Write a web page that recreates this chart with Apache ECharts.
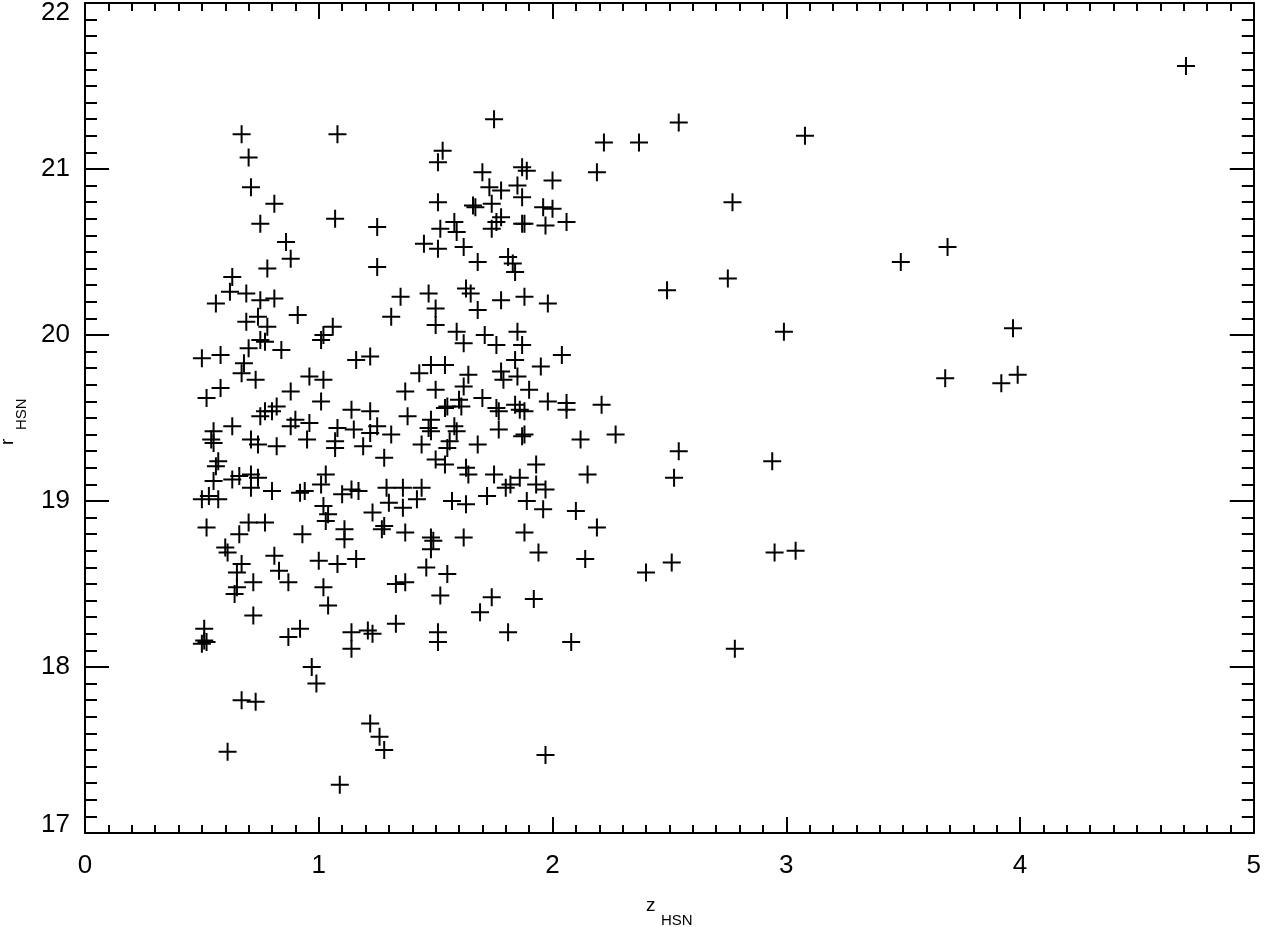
<!DOCTYPE html>
<html>
<head>
<meta charset="utf-8">
<script src="https://cdn.jsdelivr.net/npm/echarts@6/dist/echarts.min.js"></script>
<style>
html,body{margin:0;padding:0;background:#fff;}
#chart{width:1264px;height:927px;}
</style>
</head>
<body>
<div id="chart"></div>
<script>
// z_HSN, r_HSN pairs, grouped by region
const outerPoints = [
  [4.71,21.62],[3.08,21.20],[2.37,21.16],[2.22,21.16],[2.54,21.28],[2.19,20.98],[2.77,20.80],[2.06,20.68],
  [3.49,20.44],[3.69,20.53],[2.49,20.27],[2.75,20.34],[2.99,20.02],[3.97,20.04],[3.68,19.74],[3.92,19.71],
  [3.99,19.76],[2.04,19.88],[2.21,19.58],[2.27,19.40],[2.12,19.37],[2.54,19.30],[2.94,19.24],[2.52,19.14],
  [2.15,19.16],[2.10,18.94],[2.19,18.84],[2.95,18.69],[3.04,18.70],[2.14,18.65],[2.51,18.63],[2.40,18.57],
  [2.08,18.15],[2.78,18.11],[1.97,17.47]
];
const upperLeftPoints = [
  [0.67,21.21],[1.08,21.21],[0.70,21.07],[0.71,20.89],[0.81,20.79],[0.75,20.67],[1.07,20.70],[1.25,20.65],
  [0.86,20.56],[0.88,20.46],[0.78,20.40],[1.25,20.41],[0.63,20.35],[0.62,20.26],[0.69,20.25],[0.56,20.19],
  [0.75,20.21],[0.81,20.22],[1.31,20.11],[1.35,20.23],[0.69,20.08],[0.74,20.11],[0.78,20.05],[0.91,20.12],
  [1.06,20.05],[1.02,20.00],[1.01,19.97],[0.75,19.97],[0.77,19.96]
];
const upperRightPoints = [
  [1.75,21.30],[1.53,21.11],[1.51,21.04],[1.70,20.98],[1.87,21.01],[1.89,20.99],[2.00,20.93],[1.73,20.89],
  [1.78,20.87],[1.85,20.90],[1.87,20.83],[1.51,20.80],[1.66,20.78],[1.67,20.77],[1.74,20.79],[1.96,20.77],
  [2.00,20.76],[1.58,20.68],[1.52,20.64],[1.59,20.62],[1.78,20.71],[1.74,20.64],[1.76,20.68],[1.87,20.67],
  [1.88,20.67],[1.97,20.66],[1.45,20.55],[1.51,20.52],[1.62,20.53],[1.68,20.44],[1.81,20.47],[1.83,20.43],
  [1.84,20.38],[1.47,20.25],[1.50,20.16],[1.50,20.06],[1.63,20.28],[1.65,20.25],[1.68,20.15],[1.78,20.21],
  [1.88,20.23],[1.98,20.19],[1.59,20.02],[1.62,19.95],[1.71,20.00],[1.76,19.94],[1.85,20.02],[1.87,19.94]
];
const middleLeftPoints = [
  [0.50,19.86],[0.58,19.88],[0.70,19.92],[0.84,19.91],[0.68,19.83],[0.67,19.77],[0.73,19.73],[1.16,19.85],
  [1.22,19.87],[0.58,19.68],[0.52,19.62],[0.96,19.75],[1.02,19.73],[0.88,19.66],[1.01,19.60],[0.82,19.57],
  [0.80,19.54],[0.77,19.54],[0.75,19.51],[1.14,19.55],[1.22,19.54],[0.90,19.49],[0.88,19.45],[0.96,19.47],
  [0.63,19.45],[0.55,19.42],[0.54,19.37],[0.55,19.35],[0.71,19.37],[0.74,19.34],[0.82,19.33],[0.95,19.37],
  [1.08,19.44],[1.15,19.43],[1.25,19.45],[1.22,19.41],[1.31,19.40],[1.07,19.36],[1.07,19.32],[1.19,19.33],
  [1.28,19.26],[0.57,19.24],[0.56,19.21],[0.55,19.12],[0.63,19.13],[0.66,19.15],[0.71,19.16],[0.74,19.14],
  [0.71,19.08],[0.50,19.01],[0.53,19.03],[0.57,19.01],[0.80,19.06],[0.92,19.05],[0.94,19.06],[1.03,19.16],
  [1.01,19.10],[1.10,19.04],[1.14,19.07],[1.17,19.06],[1.29,19.08],[1.30,18.99],[1.23,18.93],[1.02,18.97],
  [1.04,18.92],[1.03,18.88],[0.52,18.84],[0.70,18.87],[0.77,18.87],[0.66,18.80],[0.93,18.80],[1.11,18.83],
  [1.11,18.77],[1.27,18.83],[1.28,18.85],[0.60,18.72],[0.61,18.69],[0.81,18.67],[0.67,18.62],[1.00,18.64],
  [1.08,18.62],[1.16,18.65]
];
const middleRightPoints = [
  [1.84,19.85],[1.95,19.81],[1.54,19.82],[1.48,19.82],[1.43,19.77],[1.78,19.78],[1.79,19.73],[1.85,19.75],
  [1.64,19.76],[1.62,19.69],[1.37,19.66],[1.50,19.67],[1.70,19.62],[1.90,19.67],[1.98,19.60],[2.06,19.59],
  [2.06,19.55],[1.60,19.61],[1.55,19.57],[1.61,19.57],[1.54,19.56],[1.76,19.56],[1.77,19.54],[1.84,19.58],
  [1.86,19.55],[1.88,19.54],[1.38,19.51],[1.48,19.49],[1.47,19.44],[1.48,19.42],[1.58,19.45],[1.59,19.42],
  [1.44,19.34],[1.56,19.36],[1.55,19.32],[1.68,19.34],[1.77,19.43],[1.87,19.39],[1.88,19.40],[1.50,19.25],
  [1.54,19.22],[1.63,19.20],[1.64,19.16],[1.75,19.16],[1.93,19.22],[1.86,19.14],[1.82,19.10],[1.93,19.10],
  [1.97,19.07],[1.72,19.03],[1.80,19.08],[1.89,19.00],[1.96,18.95],[1.36,19.08],[1.44,19.08],[1.42,19.01],
  [1.36,18.96],[1.57,19.00],[1.63,18.98],[1.37,18.81],[1.48,18.78],[1.49,18.76],[1.48,18.71],[1.62,18.78],
  [1.88,18.81],[1.94,18.69],[1.46,18.60]
];
const lowerLeftPoints = [
  [0.65,18.57],[0.65,18.48],[0.64,18.44],[0.72,18.51],[0.83,18.58],[0.87,18.51],[1.02,18.48],[1.04,18.37],
  [0.72,18.31],[1.33,18.50],[0.51,18.23],[0.51,18.16],[0.50,18.14],[0.52,18.15],[0.92,18.23],[0.87,18.18],
  [1.14,18.21],[1.21,18.22],[1.23,18.20],[1.14,18.11],[1.33,18.26],[0.97,18.00],[0.99,17.90],[0.67,17.80],
  [0.73,17.79],[1.22,17.66],[1.26,17.58],[1.28,17.50],[0.61,17.49],[1.09,17.29]
];
const lowerRightPoints = [
  [1.55,18.56],[1.37,18.51],[1.52,18.43],[1.74,18.42],[1.69,18.33],[1.92,18.41],[1.51,18.21],[1.51,18.15],
  [1.81,18.21]
];

const zRange = [0, 5];
const rRange = [17, 22];

const allPoints = [].concat(outerPoints, upperLeftPoints, upperRightPoints,
  middleLeftPoints, middleRightPoints, lowerLeftPoints, lowerRightPoints);

const FONT = 'Liberation Sans';
const plus = 'path://M8,0h2v8h8v2h-8v8h-2v-8h-8v-2h8z';

function xAxisCfg(pos, showLabel) {
  return {
    type: 'value', position: pos, min: zRange[0], max: zRange[1], interval: 1,
    axisLine: { show: true, onZero: false, lineStyle: { color: '#000', width: 2 } },
    axisTick: { show: true, inside: true, length: 16, lineStyle: { color: '#000', width: 2 } },
    minorTick: { show: true, splitNumber: 10, length: 8, lineStyle: { color: '#000', width: 2 } },
    splitLine: { show: false },
    axisLabel: {
      show: showLabel, color: '#000', fontFamily: FONT, fontSize: 26, margin: 20,
      formatter: v => String(v)
    }
  };
}
function yAxisCfg(pos, showLabel) {
  return {
    type: 'value', position: pos, min: rRange[0], max: rRange[1], interval: 1,
    axisLine: { show: true, onZero: false, lineStyle: { color: '#000', width: 2 } },
    axisTick: { show: true, inside: true, length: 24, lineStyle: { color: '#000', width: 2 } },
    minorTick: { show: true, splitNumber: 10, length: 12, lineStyle: { color: '#000', width: 2 } },
    splitLine: { show: false },
    axisLabel: {
      show: showLabel, color: '#000', fontFamily: FONT, fontSize: 26, margin: 15,
      formatter: v => v === rRange[1] ? '{t|' + v + '}' : (v === rRange[0] ? '{b|' + v + '}' : String(v)),
      rich: {
        t: { fontFamily: FONT, fontSize: 26, color: '#000', padding: [20, 0, 0, 0] },
        b: { fontFamily: FONT, fontSize: 26, color: '#000', padding: [0, 0, 16, 0] }
      }
    }
  };
}

const chart = echarts.init(document.getElementById('chart'), null, { renderer: 'canvas' });
chart.setOption({
  animation: false,
  backgroundColor: '#fff',
  grid: { left: 85, right: 6, top: 1, bottom: 94, containLabel: false },
  xAxis: [xAxisCfg('bottom', true), xAxisCfg('top', false)],
  yAxis: [yAxisCfg('left', true), yAxisCfg('right', false)],
  series: [{
    type: 'scatter',
    xAxisIndex: 0, yAxisIndex: 0,
    data: allPoints,
    symbol: plus,
    symbolSize: 18,
    itemStyle: { color: '#000', opacity: 1 },
    emphasis: { disabled: true }
  }],
  graphic: [
    { type: 'text', x: 646, y: 906, style: { text: 'z', font: '19px "Liberation Sans"', fill: '#000', textAlign: 'left', textVerticalAlign: 'middle' } },
    { type: 'text', x: 661, y: 921, style: { text: 'HSN', font: '15px "Liberation Sans"', fill: '#000', textAlign: 'left', textVerticalAlign: 'middle' } },
    { type: 'text', x: 8, y: 445, rotation: Math.PI / 2, style: { text: 'r', font: '19px "Liberation Sans"', fill: '#000', textAlign: 'left', textVerticalAlign: 'middle' } },
    { type: 'text', x: 22, y: 430, rotation: Math.PI / 2, style: { text: 'HSN', font: '15px "Liberation Sans"', fill: '#000', textAlign: 'left', textVerticalAlign: 'middle' } }
  ]
});
</script>
</body>
</html>
